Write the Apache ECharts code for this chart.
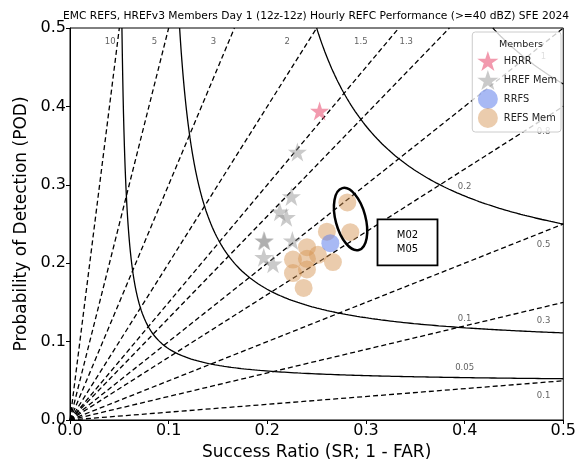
<!DOCTYPE html>
<html>
<head>
<meta charset="utf-8">
<script src="https://cdn.jsdelivr.net/npm/echarts@6/dist/echarts.min.js"></script>
<style>
  html, body { margin: 0; padding: 0; background: #fff; }
  #chart { width: 579px; height: 466px; }
</style>
</head>
<body>
<div id="chart"></div>
<script>
// values
const hrrrSR = [0.253];
const hrrrPOD = [0.394];
const hrefSR = [0.2305, 0.2244, 0.2126, 0.2193, 0.1964, 0.1972, 0.2254, 0.1964, 0.2058];
const hrefPOD = [0.3418, 0.2852, 0.2656, 0.2585, 0.2288, 0.2282, 0.2288, 0.2077, 0.1992];
const rrfsSR = [0.2639];
const rrfsPOD = [0.2255];
const refsSR = [0.2811, 0.2604, 0.2841, 0.2402, 0.2513, 0.2260, 0.2402, 0.2665, 0.2260, 0.2402, 0.2368];
const refsPOD = [0.2775, 0.2402, 0.2395, 0.2204, 0.2107, 0.2047, 0.2056, 0.2014, 0.1874, 0.1920, 0.1684];

const biasValues = [0.1, 0.3, 0.5, 0.8, 1, 1.3, 1.5, 2, 3, 5, 10];
const csiValues = [0.05, 0.1, 0.2, 0.3];
const tickLabels = ["0.0", "0.1", "0.2", "0.3", "0.4", "0.5"];

const AX_MAX = 0.5;
const zip = (xs, ys) => xs.map((x, i) => [x, ys[i]]);
const star = "path://M50,0 L61.8,35.3 L98.9,35.3 L68.9,57.1 L80.2,92.4 L50,70.6 L19.8,92.4 L31.1,57.1 L1.1,35.3 L38.2,35.3 Z";

const chart = echarts.init(document.getElementById("chart"));

// bias lines from the origin
const biasSeries = biasValues.map((b) => ({
  type: "line",
  silent: true,
  symbol: "none",
  z: 1,
  data: [[0, 0], [Math.min(AX_MAX, AX_MAX / b), Math.min(AX_MAX, AX_MAX * b)]],
  lineStyle: { color: "#000", width: 1.3, type: [5, 3] },
}));

// CSI contours: 1/POD = 1/CSI + 1 - 1/SR
const csiPod = (c, sr) => 1 / (1 / c + 1 - 1 / sr);
const csiSeries = csiValues.map((c) => {
  const sr0 = 1 / (1 / c + 1 - 1 / AX_MAX);
  const pts = [];
  const n = 300;
  for (let i = 0; i <= n; i++) {
    const sr = sr0 * Math.pow(AX_MAX / sr0, i / n);
    pts.push([sr, csiPod(c, sr)]);
  }
  return {
    type: "line",
    silent: true,
    symbol: "none",
    z: 1,
    data: pts,
    lineStyle: { color: "#000", width: 1.3 },
  };
});

// small text labels for the reference lines
const biasLabelData = biasValues.map((b) =>
  b > 1
    ? [(0.482 / b) * 0.93 - 0.004, 0.482, String(b)]
    : [0.48, 0.48 * b - 0.017, String(b)]
);
const csiLabelData = csiValues
  .filter((c) => csiPod(c, 0.4) < AX_MAX)
  .map((c) => [0.4, csiPod(c, 0.4) + 0.012, String(c)]);

const labelSeries = {
  type: "scatter",
  silent: true,
  symbolSize: 0,
  z: 1,
  data: biasLabelData.concat(csiLabelData),
  label: {
    show: true,
    position: "inside",
    formatter: (p) => p.value[2],
    color: "#3a3a3a",
    fontSize: 8.5,
    fontFamily: "DejaVu Sans",
  },
};

const memberStyle = (color) => ({ color, borderWidth: 0 });

const option = {
  animation: false,
  textStyle: { fontFamily: "DejaVu Sans" },
  title: [
    {
      text: "EMC REFS, HREFv3 Members Day 1 (12z-12z) Hourly REFC Performance (>=40 dBZ) SFE 2024",
      left: 311,
      textAlign: "center",
      top: 6,
      textStyle: { fontSize: 10.7, fontWeight: "normal", color: "#000", fontFamily: "DejaVu Sans" },
    },
    {
      text: "Members",
      left: 516,
      textAlign: "center",
      top: 35,
      z: 10,
      textStyle: { fontSize: 9.5, fontWeight: "normal", color: "#222", fontFamily: "DejaVu Sans" },
    },
  ],
  grid: { left: 70, top: 28, width: 494, height: 394, show: true, borderColor: "#000", borderWidth: 1, backgroundColor: "transparent" },
  legend: {
    data: ["HRRR", "HREF Mem", "RRFS", "REFS Mem"],
    orient: "vertical",
    right: 18,
    top: 32,
    itemWidth: 22,
    itemHeight: 20,
    itemGap: -1,
    padding: [19, 4, 4, 5],
    backgroundColor: "rgba(255,255,255,0.8)",
    borderColor: "#ccc",
    borderWidth: 1,
    borderRadius: 3,
    textStyle: { fontSize: 9.8, color: "#222", fontFamily: "DejaVu Sans" },
  },
  xAxis: {
    type: "value",
    min: 0,
    max: AX_MAX,
    interval: 0.1,
    name: "Success Ratio (SR; 1 - FAR)",
    nameLocation: "middle",
    nameGap: 24,
    nameTextStyle: { fontSize: 17, color: "#000", fontFamily: "DejaVu Sans" },
    axisLine: { lineStyle: { color: "#000", width: 1 } },
    axisTick: { show: true, length: 4, lineStyle: { color: "#000" } },
    axisLabel: { fontSize: 16, color: "#000", margin: 3, formatter: (v) => tickLabels[Math.round(v * 10)] },
    splitLine: { show: false },
  },
  yAxis: {
    type: "value",
    min: 0,
    max: AX_MAX,
    interval: 0.1,
    name: "Probability of Detection (POD)",
    nameLocation: "middle",
    nameGap: 39,
    nameTextStyle: { fontSize: 17, color: "#000", fontFamily: "DejaVu Sans" },
    axisLine: { lineStyle: { color: "#000", width: 1 } },
    axisTick: { show: true, length: 4, lineStyle: { color: "#000" } },
    axisLabel: { fontSize: 16, color: "#000", margin: 4, formatter: (v) => tickLabels[Math.round(v * 10)] },
    splitLine: { show: false },
  },
  series: [
    ...biasSeries,
    ...csiSeries,
    labelSeries,
    {
      name: "HREF Mem",
      type: "scatter",
      symbol: star,
      symbolSize: 19,
      z: 3,
      data: zip(hrefSR, hrefPOD),
      itemStyle: memberStyle("rgba(145,145,145,0.6)"),
    },
    {
      name: "HRRR",
      type: "scatter",
      symbol: star,
      symbolSize: 19,
      z: 3,
      data: zip(hrrrSR, hrrrPOD),
      itemStyle: memberStyle("rgba(232,80,115,0.72)"),
    },
    {
      name: "REFS Mem",
      type: "scatter",
      symbol: "circle",
      symbolSize: 18,
      z: 4,
      data: zip(refsSR, refsPOD),
      itemStyle: memberStyle("rgba(214,148,84,0.6)"),
    },
    {
      name: "RRFS",
      type: "scatter",
      symbol: "circle",
      symbolSize: 18,
      z: 5,
      data: zip(rrfsSR, rrfsPOD),
      itemStyle: memberStyle("rgba(100,130,235,0.7)"),
    },
  ],
};

chart.setOption(option);

// annotation: ellipse round M02/M05 and the text box
const ellipseAt = chart.convertToPixel({ gridIndex: 0 }, [0.2844, 0.2563]);
const boxAt = chart.convertToPixel({ gridIndex: 0 }, [0.3421, 0.2265]);
chart.setOption({
  graphic: [
    {
      type: "ellipse",
      x: ellipseAt[0],
      y: ellipseAt[1],
      rotation: 0.26,
      shape: { cx: 0, cy: 0, rx: 15, ry: 32 },
      style: { fill: "none", stroke: "#000", lineWidth: 2.5 },
      z: 20,
    },
    {
      type: "rect",
      x: boxAt[0] - 30,
      y: boxAt[1] - 23,
      shape: { width: 60, height: 46 },
      style: { fill: "#fff", stroke: "#000", lineWidth: 1.8 },
      z: 20,
    },
    {
      type: "text",
      x: boxAt[0],
      y: boxAt[1],
      style: {
        text: "M02\nM05",
        align: "center",
        verticalAlign: "middle",
        fontSize: 10,
        lineHeight: 14,
        fill: "#000",
        fontFamily: "DejaVu Sans",
      },
      z: 21,
    },
  ],
});
</script>
</body>
</html>
